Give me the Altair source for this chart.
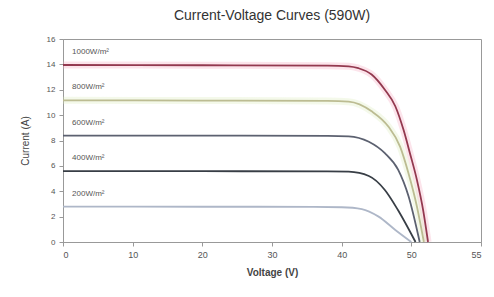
import altair as alt
import pandas as pd

# Irradiance series
series = ["1000W/m²", "800W/m²", "600W/m²", "400W/m²", "200W/m²"]
colors = ["#93394f", "#bcbc92", "#5c6170", "#383e46", "#aeb7c8"]
glow_series = ["1000W/m²", "800W/m²"]
glow_colors = ["#f4a6bd", "#dcecb8"]

# Voltage (V) / Current (A) points
v_1000 = [0, 20, 38, 41.0, 42.4, 44.3, 46.2, 47.7, 48.9, 49.8, 50.8, 51.7, 52.4]
i_1000 = [13.95, 13.93, 13.9, 13.85, 13.7, 13.2, 12.0, 10.7, 8.8, 7.0, 4.9, 2.5, 0]

v_800 = [0, 20, 38, 41.0, 44.3, 46.7, 48.4, 49.6, 50.8, 51.8]
i_800 = [11.17, 11.15, 11.12, 11.06, 10.3, 9.1, 7.5, 5.4, 2.8, 0]

v_600 = [0, 20, 38, 41.0, 43.9, 46.2, 48.1, 49.6, 51.2]
i_600 = [8.39, 8.38, 8.37, 8.33, 7.9, 7.0, 5.7, 3.6, 0]

v_400 = [0, 20, 38, 41.0, 43.9, 46.2, 48.1, 50.6]
i_400 = [5.59, 5.58, 5.57, 5.54, 5.2, 4.1, 2.5, 0]

v_200 = [0, 20, 36, 40.0, 42.9, 45.3, 47.7, 50.0]
i_200 = [2.79, 2.78, 2.77, 2.74, 2.6, 2.0, 0.95, 0]

label_v = [1.3, 1.3, 1.3, 1.3, 1.3]
label_i = [15.0, 12.2, 9.4, 6.6, 3.8]

x_ticks = [0, 10, 20, 30, 40, 50, 60]
y_ticks = [0, 2, 4, 6, 8, 10, 12, 14, 16]

rows = []
for name, vs, cs in zip(series, [v_1000, v_800, v_600, v_400, v_200],
                        [i_1000, i_800, i_600, i_400, i_200]):
    for v, c in zip(vs, cs):
        rows.append({"series": name, "V": v, "I": c})
df = pd.DataFrame(rows)
lab = pd.DataFrame({"series": series, "V": label_v, "I": label_i})

xscale = alt.Scale(domain=[0, 60], nice=False)
yscale = alt.Scale(domain=[0, 16], nice=False)

x_axis = alt.Axis(values=x_ticks, grid=False, labelOverlap=False,
                  labelExpr="datum.value == 60 ? '55' : datum.label",
                  labelFontSize=9, labelColor="#555", labelPadding=4,
                  tickSize=4, tickColor="#999", domainColor="#999",
                  titleFontSize=10, titleFontWeight="bold", titleColor="#444",
                  titlePadding=8, labelFont="Liberation Sans", titleFont="Liberation Sans")
y_axis = alt.Axis(values=y_ticks, grid=False, labelOverlap=False,
                  labelFontSize=8, labelColor="#555", labelPadding=4,
                  tickSize=4, tickColor="#999", domainColor="#999",
                  titleFontSize=10, titleFontWeight="normal", titleColor="#444",
                  titlePadding=16, labelFont="Liberation Sans", titleFont="Liberation Sans")

x_enc = alt.X("V:Q", scale=xscale, title="Voltage (V)", axis=x_axis)
y_enc = alt.Y("I:Q", scale=yscale, title="Current (A)", axis=y_axis)

glow = alt.Chart(df).transform_filter(
    alt.FieldOneOfPredicate(field="series", oneOf=glow_series)
).mark_line(strokeWidth=7, opacity=0.3, interpolate="monotone").encode(
    x=x_enc, y=y_enc,
    color=alt.Color("series:N", scale=alt.Scale(domain=glow_series, range=glow_colors), legend=None),
    detail="series:N",
)

lines = alt.Chart(df).mark_line(strokeWidth=1.8, interpolate="monotone").encode(
    x=x_enc, y=y_enc,
    color=alt.Color("series:N", scale=alt.Scale(domain=series, range=colors), legend=None),
    detail="series:N",
)

texts = alt.Chart(lab).mark_text(align="left", baseline="middle", fontSize=8,
                                 color="#555", font="Liberation Sans").encode(
    x=x_enc, y=y_enc, text="series:N"
)

chart = alt.layer(glow, lines, texts).resolve_scale(color="independent").properties(
    width=418, height=203,
    title=alt.TitleParams("Current-Voltage Curves (590W)", fontSize=14,
                          font="Liberation Sans", fontWeight="normal",
                          color="#333", offset=12, anchor="middle"),
    autosize=alt.AutoSizeParams(type="none"),
    padding={"left": 55, "top": 31, "right": 5, "bottom": 40},
).configure_view(stroke="#999", strokeWidth=1).configure_axis(labelOverlap=False)

chart.save("out.html", embed_options={"renderer": "svg", "actions": False})
